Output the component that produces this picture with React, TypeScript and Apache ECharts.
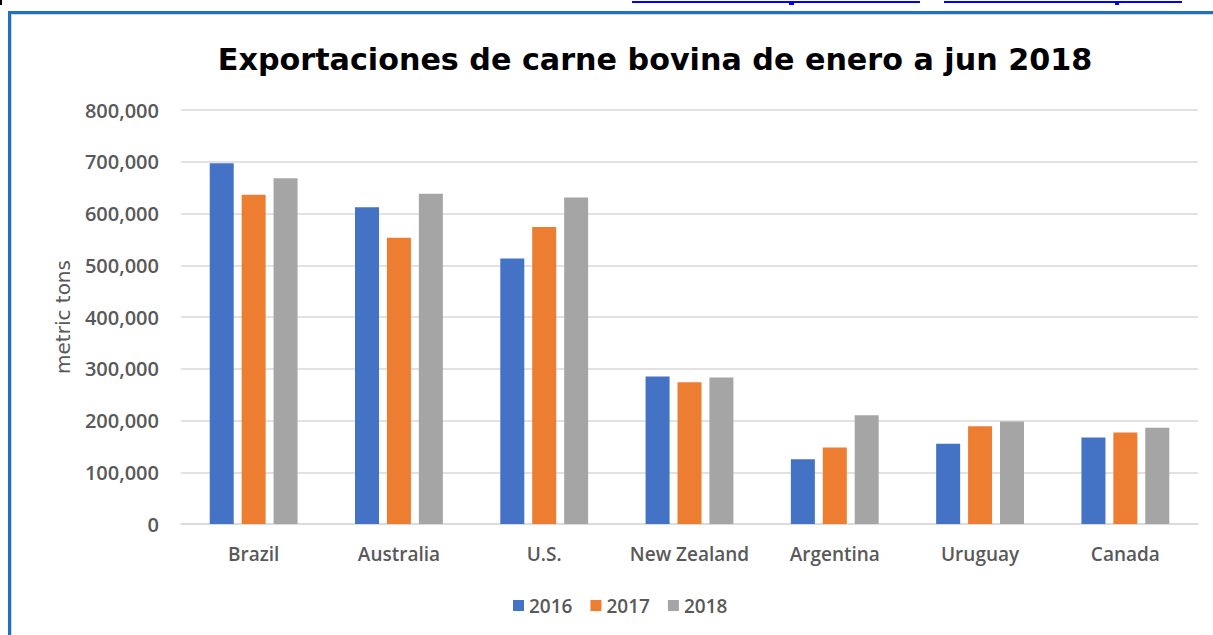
import React, { useEffect, useRef } from "react";
import * as echarts from "echarts";

const titleText = "Exportaciones de carne bovina de enero a jun 2018";
const yAxisName = "metric tons";
const categories = ["Brazil", "Australia", "U.S.", "New Zealand", "Argentina", "Uruguay", "Canada"];
const seriesNames = ["2016", "2017", "2018"];
const values2016 = [697000, 612000, 513000, 285000, 125000, 155000, 167000];
const values2017 = [636000, 553000, 574000, 274000, 148000, 189000, 177000];
const values2018 = [668000, 638000, 631000, 283000, 210000, 198000, 186000];
const colors = ["#4472C4", "#ED7D31", "#A5A5A5"];
const yMin = 0;
const yMax = 800000;
const yInterval = 100000;

export default function App() {
  const ref = useRef<HTMLDivElement>(null);
  useEffect(() => {
    if (!ref.current) return;
    const chart = echarts.init(ref.current, null, { renderer: "svg" });
    const labelFont = { fontFamily: "Open Sans", fontWeight: 600 as any, fontSize: 19, color: "#595959" };
    const allValues = [values2016, values2017, values2018];
    chart.setOption({
      animation: false,
      backgroundColor: "#ffffff",
      title: {
        text: titleText,
        left: 650,
        textAlign: "center",
        top: 39,
        textStyle: { fontFamily: "DejaVu Sans", fontWeight: "bold", fontSize: 30.2, color: "#000000" },
      },
      legend: {
        data: seriesNames,
        left: 508,
        top: 591,
        itemWidth: 11,
        itemHeight: 11,
        itemGap: 18,
        icon: "rect",
        textStyle: { ...labelFont },
      },
      grid: { left: 181, right: 15, top: 110, bottom: 111, containLabel: false },
      xAxis: {
        type: "category",
        data: categories,
        axisLine: { lineStyle: { color: "#d9d9d9", width: 1.5 } },
        axisTick: { show: false },
        axisLabel: { ...labelFont, margin: 20, interval: 0 },
      },
      yAxis: {
        type: "value",
        min: yMin,
        max: yMax,
        interval: yInterval,
        name: yAxisName,
        nameLocation: "middle",
        nameRotate: 90,
        nameGap: 108,
        nameTextStyle: { fontFamily: "DejaVu Sans", fontSize: 20, color: "#595959" },
        axisLine: { show: false },
        axisTick: { show: false },
        axisLabel: {
          ...labelFont,
          fontSize: 20,
          margin: 22,
          formatter: (v: number) => v.toLocaleString("en-US"),
        },
        splitLine: { lineStyle: { color: "#d9d9d9", width: 1.5 } },
      },
      series: seriesNames.map((name, i) => ({
        name,
        type: "bar",
        data: allValues[i],
        barWidth: 24,
        barGap: "33%",
        itemStyle: { color: colors[i] },
      })),
      graphic: [
        { type: "rect", shape: { x: 8, y: 11, width: 1205, height: 3 }, style: { fill: "#1f72c1" } },
        { type: "rect", shape: { x: 8, y: 11, width: 3, height: 624 }, style: { fill: "#1f72c1" } },
        { type: "rect", shape: { x: 11, y: 14, width: 1202, height: 1 }, style: { fill: "#d6d6d6" } },
        { type: "rect", shape: { x: 11, y: 14, width: 1, height: 621 }, style: { fill: "#d6d6d6" } },
        { type: "rect", shape: { x: 632, y: 1, width: 288, height: 2 }, style: { fill: "#0000ff" } },
        { type: "rect", shape: { x: 944, y: 1, width: 238, height: 2 }, style: { fill: "#0000ff" } },
        { type: "rect", shape: { x: 789, y: 3, width: 5, height: 2 }, style: { fill: "#0000ff" } },
        { type: "rect", shape: { x: 1115, y: 3, width: 4, height: 2 }, style: { fill: "#0000ff" } },
        { type: "rect", shape: { x: 0, y: 0, width: 2, height: 5 }, style: { fill: "#000000" } },
      ],
    });
    return () => chart.dispose();
  }, []);
  return (
    <div
      ref={ref}
      style={{ position: "fixed", left: 0, top: 0, width: 1213, height: 635 }}
    />
  );
}
